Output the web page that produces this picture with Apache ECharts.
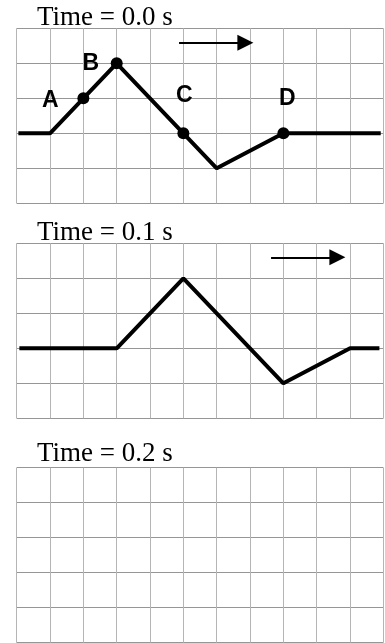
<!DOCTYPE html>
<html>
<head>
<meta charset="utf-8">
<script src="https://cdn.jsdelivr.net/npm/echarts@6/dist/echarts.min.js"></script>
<style>
html,body{margin:0;padding:0;background:#fff;}
#chart{width:385px;height:643px;}
</style>
</head>
<body>
<div id="chart"></div>
<script>
// Panel titles
const panelTitles = ['Time = 0.0 s', 'Time = 0.1 s', 'Time = 0.2 s'];

// Wave at t = 0.0 s (grid units)
const wave0X = [0.05, 1, 2, 3, 5, 6, 8, 10.92];
const wave0Y = [0, 0, 1, 2, 0, -1, 0, 0];

// Wave at t = 0.1 s
const wave1X = [0.08, 3, 5, 8, 10, 10.88];
const wave1Y = [0, 0, 2, -1, 0, 0];

// Labelled points at t = 0.0 s
const pointNames = ['A', 'B', 'C', 'D'];
const pointX = [2, 3, 5, 8];
const pointY = [1, 2, 0, 0];

// Direction arrows (start, end) per panel
const arrow0 = [[4.87, 2.59], [6.86, 2.59]];
const arrow1 = [[7.63, 2.6], [9.62, 2.6]];

// Axis ranges
const xMin = 0, xMax = 11, yMin = -2, yMax = 3;

// --- styling / layout ---
const gridLeft = 16.7, gridWidth = 366.7, gridHeight = 175;
const gridTops = [28.3, 243.3, 467.7];
const titleTops = [4, 219, 440];
const labelOffsets = [[-33, 2], [-26, 0], [1, -38], [4, -35]];

const chart = echarts.init(document.getElementById('chart'), null, {renderer: 'canvas'});

const grids = gridTops.map(t => ({left: gridLeft, top: t, width: gridWidth, height: gridHeight}));
const xAxes = gridTops.map((t, i) => ({
  type: 'value', gridIndex: i, min: xMin, max: xMax, interval: 1,
  axisLabel: {show: false}, axisTick: {show: false}, axisLine: {show: false},
  splitLine: {show: true, showMinLine: true, showMaxLine: true, lineStyle: {color: '#b5b5b5', width: 1}}
}));
const yAxes = gridTops.map((t, i) => ({
  type: 'value', gridIndex: i, min: yMin, max: yMax, interval: 1,
  axisLabel: {show: false}, axisTick: {show: false}, axisLine: {show: false},
  splitLine: {show: true, showMinLine: true, showMaxLine: true, lineStyle: {color: '#969696', width: 1}}
}));

const titles = panelTitles.map((txt, i) => ({
  text: txt, left: 37, top: titleTops[i], padding: 0,
  textStyle: {fontFamily: 'Liberation Serif', fontSize: 27, fontWeight: 'normal', color: '#000'}
}));

const waveStyle = {color: '#000', width: 4};
const pointLabel = {
  show: true, position: 'inside', formatter: '{b}',
  fontFamily: 'Liberation Sans', fontWeight: 'bold', fontSize: 23, color: '#000', opacity: 1
};

const series = [
  {
    type: 'line', xAxisIndex: 0, yAxisIndex: 0, symbol: 'none', z: 3,
    data: wave0X.map((x, i) => [x, wave0Y[i]]),
    lineStyle: waveStyle, animation: false
  },
  {
    type: 'scatter', xAxisIndex: 0, yAxisIndex: 0, symbol: 'circle', symbolSize: 12, z: 4,
    itemStyle: {color: '#000', opacity: 1},
    data: pointNames.map((n, i) => ({
      name: n, value: [pointX[i], pointY[i]],
      label: Object.assign({}, pointLabel, {offset: labelOffsets[i]})
    })),
    label: pointLabel,
    emphasis: {disabled: true},
    animation: false
  },
  {
    type: 'line', xAxisIndex: 1, yAxisIndex: 1, symbol: 'none', z: 3,
    data: wave1X.map((x, i) => [x, wave1Y[i]]),
    lineStyle: waveStyle, animation: false
  },
  {
    type: 'lines', coordinateSystem: 'cartesian2d', xAxisIndex: 0, yAxisIndex: 0,
    symbol: ['none', 'triangle'], symbolSize: 16,
    lineStyle: {color: '#000', width: 2, opacity: 1},
    data: [{coords: arrow0}], animation: false
  },
  {
    type: 'lines', coordinateSystem: 'cartesian2d', xAxisIndex: 1, yAxisIndex: 1,
    symbol: ['none', 'triangle'], symbolSize: 16,
    lineStyle: {color: '#000', width: 2, opacity: 1},
    data: [{coords: arrow1}], animation: false
  }
];

chart.setOption({
  backgroundColor: '#fff',
  animation: false,
  title: titles,
  grid: grids,
  xAxis: xAxes,
  yAxis: yAxes,
  series: series
});
</script>
</body>
</html>
